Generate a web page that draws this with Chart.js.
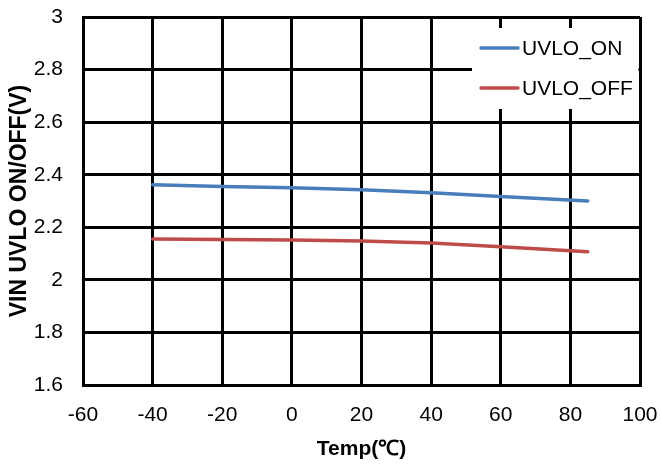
<!DOCTYPE html>
<html>
<head>
<meta charset="utf-8">
<script src="https://cdn.jsdelivr.net/npm/chart.js@4.4.0/dist/chart.umd.min.js"></script>
<style>
  body { margin: 0; background: #fff; }
  #wrap { width: 661px; height: 466px; }
</style>
</head>
<body>
<div id="wrap"><canvas id="uvloChart" width="661" height="466"></canvas></div>
<script>
var temps = [-40, -20, 0, 20, 40, 60, 85]
var uvloOn = [2.362, 2.355, 2.350, 2.343, 2.331, 2.317, 2.300]
var uvloOff = [2.155, 2.154, 2.152, 2.148, 2.140, 2.126, 2.107]
var seriesNames = ['UVLO_ON', 'UVLO_OFF']
var seriesColors = ['#4A7EBB', '#BE4B48']

var fontFamily = '"Liberation Sans", Arial, sans-serif'

function toPoints(xs, ys) {
    var pts = []
    xs.forEach(function(x, i) {
        pts.push({ x: x, y: ys[i] })
    })
    return pts
}

// legend sits inside the plot, on a white box that hides the grid
var boxLegend = {
    id: 'boxLegend',
    beforeDatasetsDraw: function(chart) {
        var ctx = chart.ctx
        var area = chart.chartArea
        ctx.save()
        ctx.fillStyle = '#fff'
        ctx.fillRect(472, 28, area.right - 1.5 - 472, 81)
        chart.data.datasets.forEach(function(ds, i) {
            var y = 48 + i * 40
            ctx.strokeStyle = ds.borderColor
            ctx.lineWidth = 3.5
            ctx.lineCap = 'round'
            ctx.beginPath()
            ctx.moveTo(481, y)
            ctx.lineTo(518, y)
            ctx.stroke()
            ctx.fillStyle = '#000'
            ctx.font = '21px ' + fontFamily
            ctx.textBaseline = 'middle'
            ctx.textAlign = 'left'
            ctx.fillText(ds.label, 522, y + 1)
        })
        ctx.restore()
    }
}

// tick padding counts toward layout padding in v4, so the gap comes from invisible ticks instead
var clear = 'rgba(0,0,0,0)'

var canvasElement = document.getElementById('uvloChart')
var configure = {
    type: 'line',
    data: {
        datasets: [{
            label: seriesNames[0],
            data: toPoints(temps, uvloOn),
            borderColor: seriesColors[0],
            backgroundColor: seriesColors[0],
            borderWidth: 3.5,
            pointRadius: 0,
            borderCapStyle: 'round'
        }, {
            label: seriesNames[1],
            data: toPoints(temps, uvloOff),
            borderColor: seriesColors[1],
            backgroundColor: seriesColors[1],
            borderWidth: 3.5,
            pointRadius: 0,
            borderCapStyle: 'round'
        }]
    },
    options: {
        responsive: false,
        animation: false,
        layout: { autoPadding: false, padding: { top: 17, right: 21, left: 0, bottom: 0 } },
        plugins: {
            legend: { display: false },
            tooltip: { enabled: false }
        },
        scales: {
            x: {
                type: 'linear',
                min: -60,
                max: 100,
                ticks: {
                    stepSize: 20,
                    padding: 0,
                    color: '#000',
                    font: { family: fontFamily, size: 21 }
                },
                grid: { color: '#000', lineWidth: 3, tickLength: 18, tickColor: clear },
                border: { color: '#000', width: 3 },
                title: {
                    display: true,
                    text: 'Temp(℃)',
                    color: '#000',
                    font: { family: fontFamily, size: 21, weight: 'bold' },
                    padding: { top: 0, bottom: 4 }
                },
                afterFit: function(scale) { scale.height = 81 }
            },
            y: {
                min: 1.6,
                max: 3,
                ticks: {
                    stepSize: 0.2,
                    padding: 0,
                    color: '#000',
                    font: { family: fontFamily, size: 21 },
                    callback: function(v) { return String(Number(v.toFixed(1))) }
                },
                grid: { color: '#000', lineWidth: 3, tickLength: 20, tickColor: clear },
                border: { color: '#000', width: 3 },
                title: {
                    display: true,
                    text: 'VIN UVLO ON/OFF(V)',
                    color: '#000',
                    font: { family: fontFamily, size: 23, weight: 'bold' },
                    padding: { top: 6, bottom: 0 }
                },
                afterFit: function(scale) { scale.width = 83 }
            }
        }
    },
    plugins: [boxLegend]
}

var uvloChart = new Chart(canvasElement, configure)
</script>
</body>
</html>
